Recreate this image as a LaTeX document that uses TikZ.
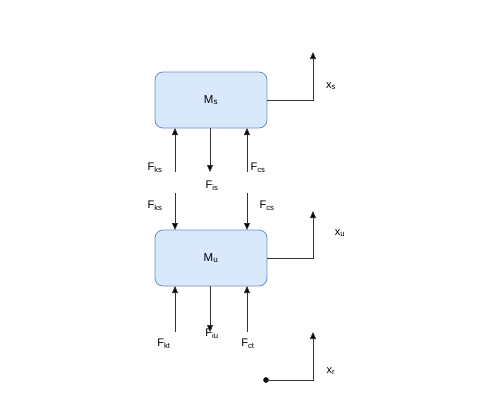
\documentclass[tikz,border=0pt]{standalone}
\usepackage{fontspec}
\setmainfont{Liberation Sans}
\usetikzlibrary{arrows.meta}
\definecolor{massfill}{RGB}{218,232,252}
\definecolor{massline}{RGB}{108,142,191}
\begin{document}
\begin{tikzpicture}[x=1pt,y=-1pt,
  mass/.style={draw=massline, fill=massfill, rounded corners=8pt, minimum width=112pt, minimum height=56pt, inner sep=0pt, line width=0.8pt, font=\fontsize{11.5}{13}\selectfont},
  conn/.style={draw=black!80, line width=0.8pt},
  arr/.style={conn, -{Triangle[length=7pt,width=6pt,fill=black]}},
  lab/.style={font=\fontsize{11}{12}\selectfont, inner sep=0pt}]
\useasboundingbox (0,0) rectangle (479,405);
\node[mass] (ms) at (211,100) {M\textsubscript{s}};
\node[mass] (mu) at (211,258) {M\textsubscript{u}};
% upper region coordinates
\coordinate (a1) at (175,172);
\coordinate (a2) at (175,193);
\coordinate (b1) at (247,172);
\coordinate (b2) at (247,193);
\coordinate (c1) at (210,172);
\draw[arr] (a1) -- (175,128);
\draw[arr] (a2) -- (175,230);
\draw[arr] (b1) -- (247,128);
\draw[arr] (b2) -- (247,230);
\draw[arr] (210,128) -- (c1);
% lower region
\coordinate (d1) at (175,332);
\coordinate (e1) at (247,332);
\coordinate (f1) at (210,332);
\draw[arr] (d1) -- (175,286);
\draw[arr] (e1) -- (247,286);
\draw[arr] (210,286) -- (f1);
% displacement arrows
\coordinate (xs) at (313,52);
\coordinate (xu) at (313,211);
\coordinate (xr) at (313,332);
\draw[arr] (ms.east) -- (313,100) -- (xs);
\draw[arr] (mu.east) -- (313,258) -- (xu);
\fill (266,380) circle (2.8pt) coordinate (r0);
\draw[arr] (r0) -- (313,380) -- (xr);
% labels
\node[lab] (l1) at (155,168) {F\textsubscript{ks}};
\node[lab] (l2) at (155,206) {F\textsubscript{ks}};
\node[lab] (l3) at (258,168) {F\textsubscript{cs}};
\node[lab] (l4) at (267,206) {F\textsubscript{cs}};
\node[lab] (l5) at (212,186) {F\textsubscript{is}};
\node[lab] (l6) at (164,344) {F\textsubscript{kt}};
\node[lab] (l7) at (212,334) {F\textsubscript{iu}};
\node[lab] (l8) at (248,344) {F\textsubscript{ct}};
\node[lab] (l9) at (331,86) {x\textsubscript{s}};
\node[lab] (l10) at (340,233) {x\textsubscript{u}};
\node[lab] (l11) at (331,371) {x\textsubscript{r}};
\end{tikzpicture}
\end{document}
